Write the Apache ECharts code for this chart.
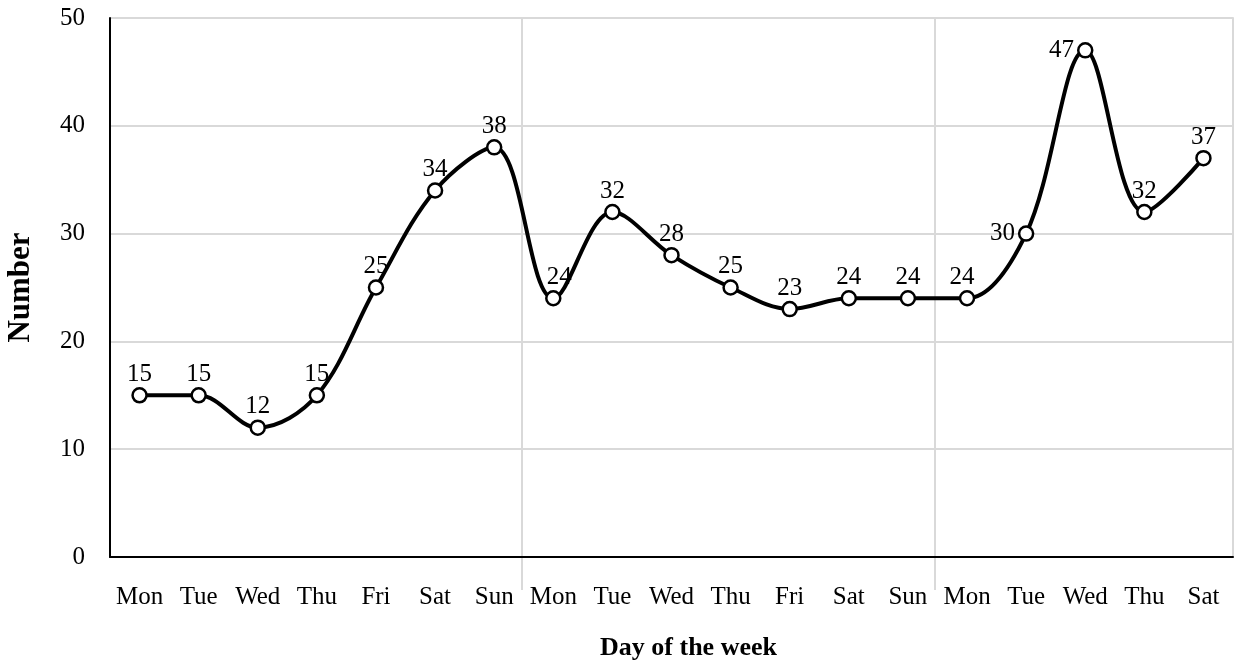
<!DOCTYPE html>
<html>
<head>
<meta charset="utf-8">
<script src="https://cdn.jsdelivr.net/npm/echarts@6/dist/echarts.min.js"></script>
<style>
  html, body { margin: 0; padding: 0; background: #fff; }
  #chart { width: 1236px; height: 667px; }
</style>
</head>
<body>
<div id="chart"></div>
<script>
// day labels along the x axis (three weeks, the last one cut at Sat)
var days = ['Mon', 'Tue', 'Wed', 'Thu', 'Fri', 'Sat', 'Sun',
            'Mon', 'Tue', 'Wed', 'Thu', 'Fri', 'Sat', 'Sun',
            'Mon', 'Tue', 'Wed', 'Thu', 'Sat'];
var counts = [15, 15, 12, 15, 25, 34, 38, 24, 32, 28, 25, 23, 24, 24, 24, 30, 47, 32, 37];
// indexes where a new week starts (separator drawn before them)
var weekStarts = [7, 14];
// points whose label sits on the left instead of on top
var leftLabels = [15, 16];
// labels nudged sideways off their point (index, then px)
var nudgedLabels = [7, 14];
var nudgeBy = [6, -5];

var font = '"Liberation Serif", "Times New Roman", serif';
var chart = echarts.init(document.getElementById('chart'));

var points = counts.map(function (v, i) {
  if (leftLabels.indexOf(i) >= 0) {
    return { value: v, label: { position: 'left', distance: 3 } };
  }
  var n = nudgedLabels.indexOf(i);
  if (n >= 0) {
    return { value: v, label: { offset: [nudgeBy[n], 0] } };
  }
  return v;
});

chart.setOption({
  animation: false,
  textStyle: { fontFamily: font },
  grid: { left: 110, right: 3, top: 18, bottom: 110, outerBoundsMode: 'none' },
  xAxis: {
    type: 'category',
    data: days,
    boundaryGap: true,
    name: 'Day of the week',
    nameLocation: 'middle',
    nameGap: 78,
    nameTextStyle: {
      fontFamily: font, fontSize: 26, fontWeight: 'bold', color: '#000',
      padding: [0, 0, 0, 34]
    },
    axisLine: { lineStyle: { color: '#000', width: 2 } },
    axisTick: { show: false },
    axisLabel: { fontFamily: font, fontSize: 25, color: '#000', margin: 28, interval: 0 }
  },
  yAxis: [{
    type: 'value',
    min: 0,
    max: 50,
    interval: 10,
    name: 'Number',
    nameLocation: 'middle',
    nameGap: 74,
    nameTextStyle: { fontFamily: font, fontSize: 31, fontWeight: 'bold', color: '#000' },
    axisLine: { show: true, lineStyle: { color: '#000', width: 2 } },
    axisTick: { show: false },
    axisLabel: { fontFamily: font, fontSize: 25, color: '#000', margin: 25 },
    splitLine: { lineStyle: { color: '#d9d9d9', width: 2 } }
  }, {
    type: 'value',
    min: 0,
    max: 50,
    interval: 10,
    position: 'right',
    axisLine: { show: true, lineStyle: { color: '#d9d9d9', width: 2 } },
    axisTick: { show: false },
    axisLabel: { show: false },
    splitLine: { show: false }
  }],
  series: [{
    type: 'line',
    data: points,
    smooth: 0.35,
    symbol: 'circle',
    symbolSize: 14,
    lineStyle: { color: '#000', width: 4 },
    itemStyle: { color: '#fff', borderColor: '#000', borderWidth: 2.5 },
    label: {
      show: true,
      position: 'top',
      distance: 0,
      fontFamily: font,
      fontSize: 25,
      color: '#000'
    }
  }]
});

// week separators: halfway between the last Sun and the next Mon
var sepTop = chart.convertToPixel({ yAxisIndex: 0 }, 50);
var sepBottom = chart.convertToPixel({ yAxisIndex: 0 }, 0) + 33;
var seps = weekStarts.map(function (i) {
  var a = chart.convertToPixel({ xAxisIndex: 0 }, i - 1);
  var b = chart.convertToPixel({ xAxisIndex: 0 }, i);
  var x = Math.round((a + b) / 2) - 2;
  return {
    type: 'line',
    shape: { x1: x, y1: sepTop, x2: x, y2: sepBottom },
    style: { stroke: '#d9d9d9', lineWidth: 2 },
    z: 0
  };
});
chart.setOption({ graphic: seps });
</script>
</body>
</html>
